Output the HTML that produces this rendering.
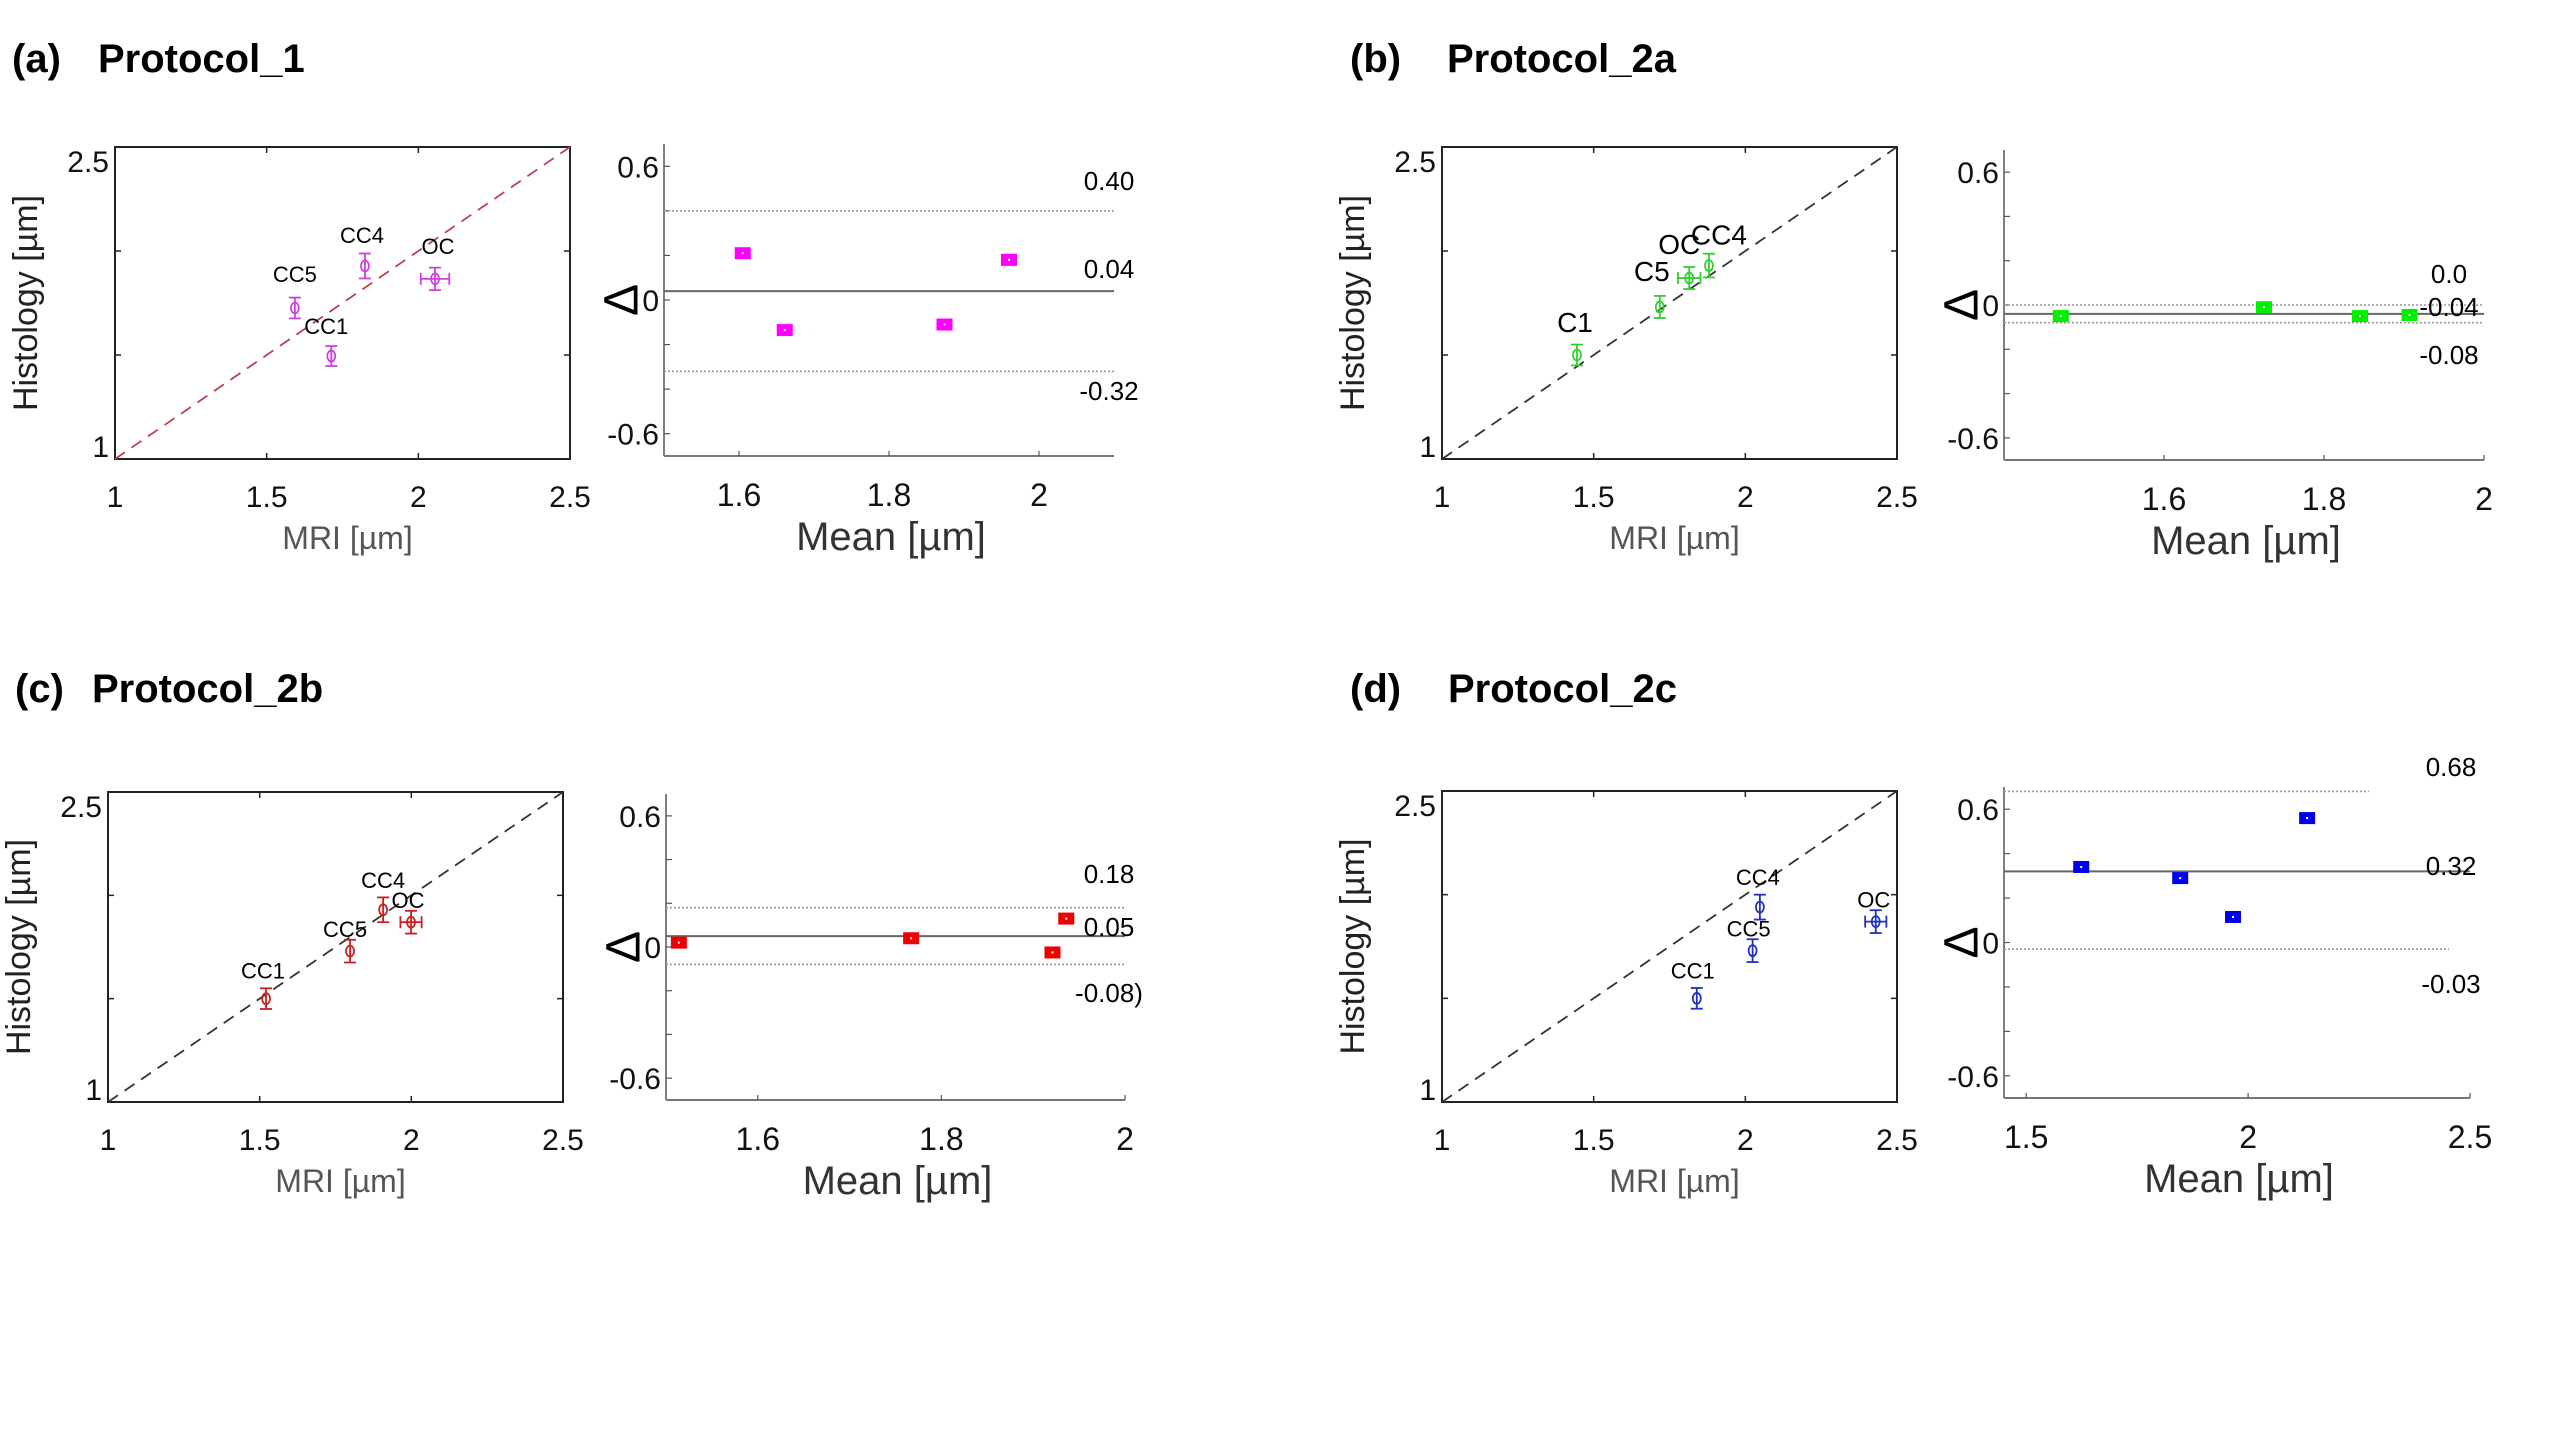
<!DOCTYPE html>
<html><head><meta charset="utf-8"><style>
html,body{margin:0;padding:0;background:#fff;}
svg{display:block;}
text{font-family:"Liberation Sans",sans-serif;}
</style></head><body>
<svg id="fig" width="2560" height="1440" viewBox="0 0 2560 1440" xmlns="http://www.w3.org/2000/svg">
<rect width="2560" height="1440" fill="#fff"/>
</svg>
<script>
// ---- Data: scatter (MRI vs Histology) ----
const labelsA = ["CC5","CC4","CC1","OC"];
const mriA = [1.593,1.824,1.713,2.055];
const histA = [1.726,1.928,1.495,1.866];
const yErrA = [0.05,0.06,0.048,0.054];
const xErrA = [0,0,0,0.047];
const baMeanA = [1.605,1.661,1.874,1.96];
const baDiffA = [0.21,-0.135,-0.11,0.18];
const limitsA = [0.40,0.04,-0.32];

const labelsB = ["C1","C5","OC","CC4"];
const mriB = [1.445,1.718,1.815,1.88];
const histB = [1.5,1.731,1.87,1.93];
const yErrB = [0.05,0.053,0.053,0.057];
const xErrB = [0,0,0.037,0];
const baMeanB = [1.471,1.725,1.845,1.907];
const baDiffB = [-0.05,-0.01,-0.05,-0.045];
const limitsB = [0.0,-0.04,-0.08];

const labelsC = ["CC1","CC5","CC4","OC"];
const mriC = [1.521,1.798,1.907,1.999];
const histC = [1.50,1.73,1.93,1.87];
const yErrC = [0.05,0.055,0.06,0.055];
const xErrC = [0,0,0,0.035];
const baMeanC = [1.514,1.767,1.921,1.936];
const baDiffC = [0.02,0.04,-0.025,0.13];
const limitsC = [0.18,0.05,-0.08];

const labelsD = ["CC1","CC5","CC4","OC"];
const mriD = [1.84,2.024,2.048,2.43];
const histD = [1.50,1.73,1.94,1.87];
const yErrD = [0.05,0.055,0.06,0.055];
const xErrD = [0,0,0,0.035];
const baMeanD = [1.624,1.847,1.966,2.133];
const baDiffD = [0.34,0.29,0.115,0.56];
const limitsD = [0.68,0.32,-0.03];

const limitTextA = ["0.40","0.04","-0.32"];
const limitTextB = ["0.0","-0.04","-0.08"];
const limitTextC = ["0.18","0.05","-0.08)"];
const limitTextD = ["0.68","0.32","-0.03"];
const baXTicksAB = [1.6,1.8,2];
const baXTicksD = [1.5,2,2.5];
const baYTicks = [-0.6,-0.4,-0.2,0,0.2,0.4,0.6];
const baYTickLabels = ["0.6","0","-0.6"];
const scXTicks = [1,1.5,2,2.5];

const NS = "http://www.w3.org/2000/svg";
const svg = document.getElementById('fig');
function mk(tag, attrs, parent, txt){
  const e = document.createElementNS(NS, tag);
  for (const k in attrs) e.setAttribute(k, attrs[k]);
  if (txt !== undefined) e.textContent = txt;
  (parent||svg).appendChild(e);
  return e;
}

const panels = [
 {id:"a", tag:"(a)", title:"Protocol_1", tx:12, px:98, ty:72, color:"#d040e0", sq:"#ff00ff", diag:"#c04050",
  sc:{x0:115,x1:570,y0:147,y1:459}, ba:{x0:664,x1:1114,y0:144,y1:456,xmin:1.5,xmax:2.1},
  labels:labelsA, mri:mriA, hist:histA, ye:yErrA, xe:xErrA, bm:baMeanA, bd:baDiffA, lim:limitsA, limT:limitTextA,
  limEnd:[1114,1114,1114], limX:1109, limY:[190,278,400], xt:baXTicksAB, lblSize:22, lblOff:[[0,-26],[-3,-23],[-5,-22],[3,-25]]},
 {id:"b", tag:"(b)", title:"Protocol_2a", tx:1350, px:1447, ty:72, color:"#30d030", sq:"#00ee00", diag:"#333",
  sc:{x0:1442,x1:1897,y0:147,y1:459}, ba:{x0:2004,x1:2484,y0:150,y1:460,xmin:1.4,xmax:2.0},
  labels:labelsB, mri:mriB, hist:histB, ye:yErrB, xe:xErrB, bm:baMeanB, bd:baDiffB, lim:limitsB, limT:limitTextB,
  limEnd:[2484,2484,2484], limX:2449, limY:[283,316,364], xt:baXTicksAB, lblSize:28, lblOff:[[-2,-23],[-8,-26],[-10,-24],[10,-21]]},
 {id:"c", tag:"(c)", title:"Protocol_2b", tx:15, px:92, ty:702, color:"#cc2020", sq:"#ee0000", diag:"#333",
  sc:{x0:108,x1:563,y0:792,y1:1102}, ba:{x0:666,x1:1125,y0:794,y1:1100,xmin:1.5,xmax:2.0},
  labels:labelsC, mri:mriC, hist:histC, ye:yErrC, xe:xErrC, bm:baMeanC, bd:baDiffC, lim:limitsC, limT:limitTextC,
  limEnd:[1125,1125,1125], limX:1109, limY:[883,936,1002], xt:baXTicksAB, lblSize:22, lblOff:[[-3,-20],[-5,-14],[0,-22],[-3,-14]]},
 {id:"d", tag:"(d)", title:"Protocol_2c", tx:1350, px:1448, ty:702, color:"#2030c0", sq:"#0000ee", diag:"#333",
  sc:{x0:1442,x1:1897,y0:791,y1:1102}, ba:{x0:2004,x1:2470,y0:787,y1:1098,xmin:1.45,xmax:2.5},
  labels:labelsD, mri:mriD, hist:histD, ye:yErrD, xe:xErrD, bm:baMeanD, bd:baDiffD, lim:limitsD, limT:limitTextD,
  limEnd:[2369,2470,2449], limX:2451, limY:[776,875,993], xt:baXTicksD, lblSize:22, lblOff:[[-4,-20],[-4,-14],[-2,-22],[-2,-14]]}
];

panels.forEach(p => {
  const g = mk('g', {});
  
  
  const t1 = mk('text', {x:p.tx, y:p.ty, 'font-size':40, 'font-weight':'bold', fill:'#000'}, g, p.tag);
  
  
  const t2 = mk('text', {x:p.px, y:p.ty, 'font-size':40, 'font-weight':'bold', fill:'#000'}, g, p.title);
  
  

  // ---------- scatter ----------
  const s = p.sc;
  const sx = v => s.x0 + (v - 1) / 1.5 * (s.x1 - s.x0);
  const sy = v => s.y1 - (v - 1) / 1.5 * (s.y1 - s.y0);
  const sg = mk('g', {}, g);
  
  
  const box = mk('rect', {x:s.x0, y:s.y0, width:s.x1-s.x0, height:s.y1-s.y0, fill:'none', stroke:'#222', 'stroke-width':2}, sg);
  
  
  [1.5, 2].forEach(v => {
    mk('line', {x1:sx(v), x2:sx(v), y1:s.y1, y2:s.y1-6, stroke:'#222','stroke-width':1.5}, sg);
    mk('line', {x1:sx(v), x2:sx(v), y1:s.y0, y2:s.y0+6, stroke:'#222','stroke-width':1.5}, sg);
    mk('line', {x1:s.x0, x2:s.x0+6, y1:sy(v), y2:sy(v), stroke:'#222','stroke-width':1.5}, sg);
    mk('line', {x1:s.x1, x2:s.x1-6, y1:sy(v), y2:sy(v), stroke:'#222','stroke-width':1.5}, sg);
  });
  scXTicks.forEach(v => {
    const tl = mk('text', {x:sx(v), y:s.y1+48, 'font-size':30, 'text-anchor':'middle', fill:'#111'}, sg, String(v));
    
    
  });
  const yl1 = mk('text', {x:s.x0-6, y:s.y0+25, 'font-size':30, 'text-anchor':'end', fill:'#111'}, sg, '2.5');
  
  
  const yl2 = mk('text', {x:s.x0-6, y:s.y1-2, 'font-size':30, 'text-anchor':'end', fill:'#111'}, sg, '1');
  
  
  const xt = mk('text', {x:(s.x0+s.x1)/2+5, y:s.y1+90, 'font-size':32, 'text-anchor':'middle', fill:'#555'}, sg, 'MRI [µm]');
  
  
  const ytx = s.x0 - 78, yty = (s.y0+s.y1)/2;
  const yt = mk('text', {x:ytx, y:yty, 'font-size':34, 'text-anchor':'middle', fill:'#222', transform:'rotate(-90 '+ytx+' '+yty+')'}, sg, 'Histology [µm]');
  
  
  const dl = mk('line', {x1:sx(1), y1:sy(1), x2:sx(2.5), y2:sy(2.5), stroke:p.diag, 'stroke-width':1.8, 'stroke-dasharray':'12 8'}, sg);
  
  
  p.labels.forEach((lb, i) => {
    const cx = sx(p.mri[i]), cy = sy(p.hist[i]);
    const pg = mk('g', {stroke:p.color, 'stroke-width':1.8, fill:'none'}, sg);
    
    
    const ey1 = sy(p.hist[i] + p.ye[i]), ey2 = sy(p.hist[i] - p.ye[i]);
    mk('line', {x1:cx, x2:cx, y1:ey1, y2:ey2}, pg);
    mk('line', {x1:cx-6, x2:cx+6, y1:ey1, y2:ey1}, pg);
    mk('line', {x1:cx-6, x2:cx+6, y1:ey2, y2:ey2}, pg);
    if (p.xe[i] > 0) {
      const ex1 = sx(p.mri[i] - p.xe[i]), ex2 = sx(p.mri[i] + p.xe[i]);
      mk('line', {x1:ex1, x2:ex2, y1:cy, y2:cy}, pg);
      mk('line', {x1:ex1, x2:ex1, y1:cy-6, y2:cy+6}, pg);
      mk('line', {x1:ex2, x2:ex2, y1:cy-6, y2:cy+6}, pg);
    }
    mk('ellipse', {cx:cx, cy:cy, rx:4, ry:5.5}, pg);
    const o = p.lblOff[i];
    const lt = mk('text', {x:cx+o[0], y:cy+o[1], 'font-size':p.lblSize, 'text-anchor':'middle', fill:'#000', stroke:'none'}, sg, lb);
    
    
  });

  // ---------- Bland-Altman ----------
  const b = p.ba;
  const bx = v => b.x0 + (v - b.xmin) / (b.xmax - b.xmin) * (b.x1 - b.x0);
  const by = v => b.y1 - (v + 0.7) / 1.4 * (b.y1 - b.y0);
  const bg = mk('g', {}, g);
  
  
  const ax1 = mk('line', {x1:b.x0, x2:b.x0, y1:b.y0, y2:b.y1, stroke:'#555', 'stroke-width':1.5}, bg);
  
  
  const ax2 = mk('line', {x1:b.x0, x2:b.x1, y1:b.y1, y2:b.y1, stroke:'#777', 'stroke-width':2}, bg);
  
  
  baYTicks.forEach(v => {
    mk('line', {x1:b.x0, x2:b.x0+6, y1:by(v), y2:by(v), stroke:'#555', 'stroke-width':1.2}, bg);
  });
  [0.6, 0, -0.6].forEach((v, k) => {
    const tl = mk('text', {x:b.x0-5, y:by(v)+11, 'font-size':30, 'text-anchor':'end', fill:'#111'}, bg, baYTickLabels[k]);
    
    
  });
  const dx = b.x0 - 42, dy = by(0);
  const dt = mk('text', {x:dx, y:dy, 'font-size':48, 'text-anchor':'middle', 'dominant-baseline':'central', fill:'#000', transform:'rotate(-90 '+dx+' '+dy+')'}, bg, 'Δ');
  
  
  p.xt.forEach(v => {
    mk('line', {x1:bx(v), x2:bx(v), y1:b.y1, y2:b.y1-5, stroke:'#555', 'stroke-width':1.2}, bg);
    const tl = mk('text', {x:bx(v), y:b.y1+50, 'font-size':32, 'text-anchor':'middle', fill:'#111'}, bg, String(v));
    
    
  });
  const mt = mk('text', {x:(b.x0+b.x1)/2+2, y:b.y1+94, 'font-size':40, 'text-anchor':'middle', fill:'#333'}, bg, 'Mean [µm]');
  
  
  p.lim.forEach((v, k) => {
    const solid = (k === 1);
    const ln = mk('line', {x1:b.x0, x2:p.limEnd[k], y1:by(v), y2:by(v), stroke: solid ? '#666' : '#999', 'stroke-width': solid ? 2 : 1.6, 'stroke-dasharray': solid ? 'none' : '2 2'}, bg);
    
    
    const lt = mk('text', {x:p.limX, y:p.limY[k], 'font-size':26, 'text-anchor':'middle', fill:'#000'}, bg, p.limT[k]);
    
    
  });
  p.bm.forEach((m, i) => {
    const r = mk('rect', {x:bx(m)-8, y:by(p.bd[i])-6, width:16, height:12, fill:p.sq}, bg);
    
    
    mk('rect', {x:bx(m)-1, y:by(p.bd[i])-1, width:2, height:2, fill:'#fff'}, bg);
  });
});
</script>
</body></html>
